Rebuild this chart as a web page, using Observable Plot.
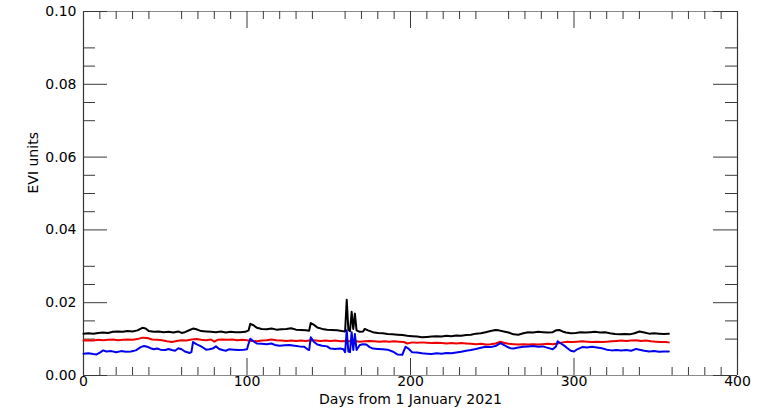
<!DOCTYPE html>
<html>
<head>
<meta charset="utf-8">
<script src="https://cdn.jsdelivr.net/npm/d3@7"></script>
<script src="https://cdn.jsdelivr.net/npm/@observablehq/plot@0.6"></script>
<style>
  html, body { margin: 0; padding: 0; background: white; }
  #chart { width: 768px; height: 411px; }
</style>
</head>
<body>
<div id="chart"></div>
<script>
// ---- Data ----
const blackDays = [0,3,6,9,12,15,18,21,24,27,30,33,36,38,40,43,46,49,52,55,58,60,62,65,67,69,72,75,78,81,84,87,90,93,96,99,101,102,104,106,109,112,115,118,121,124,127,130,133,136,138,139,141,143,146,149,152,155,158,160,161,162,163,164,165,166,167,169,171,172,174,177,180,183,186,189,192,195,198,201,204,207,210,213,216,219,222,225,228,231,234,237,240,243,246,249,252,254,257,260,263,266,269,272,275,278,281,284,287,289,291,293,295,298,301,304,307,310,313,316,319,322,325,328,331,334,337,340,343,346,349,352,355,358];
const blackVals = [.0115,.0116,.0115,.0117,.0118,.0117,.0120,.0121,.0120,.0122,.0121,.0124,.0131,.0129,.0122,.0120,.0121,.0119,.0120,.0118,.0121,.0117,.0119,.0125,.0129,.0127,.0122,.0121,.0120,.0119,.0121,.0118,.0120,.0119,.0119,.0120,.0124,.0142,.0138,.0131,.0128,.0127,.0129,.0126,.0127,.0128,.0130,.0126,.0125,.0124,.0123,.0144,.0139,.0132,.0128,.0126,.0125,.0124,.0122,.0121,.0208,.0125,.0122,.0175,.0128,.0170,.0124,.0120,.0121,.0128,.0124,.0119,.0117,.0116,.0114,.0113,.0112,.0111,.0109,.0108,.0107,.0105,.0106,.0107,.0108,.0107,.0109,.0108,.0110,.0109,.0111,.0112,.0115,.0116,.0119,.0122,.0125,.0124,.0121,.0118,.0113,.0112,.0116,.0119,.0118,.0120,.0119,.0118,.0119,.0124,.0125,.0121,.0118,.0116,.0117,.0119,.0118,.0119,.0120,.0118,.0119,.0116,.0114,.0113,.0114,.0113,.0116,.0121,.0118,.0115,.0116,.0115,.0114,.0115];

const redDays = [0,3,6,9,12,15,18,21,24,27,30,33,36,39,42,45,48,51,54,57,60,63,66,69,72,75,78,80,82,85,88,91,94,97,100,103,106,109,112,115,118,121,124,127,130,133,136,139,142,145,148,151,154,157,160,163,166,169,172,175,178,181,184,187,190,193,196,198,201,204,207,210,213,216,219,222,225,228,231,234,237,240,243,246,249,252,255,257,260,263,266,269,272,275,278,281,284,287,290,293,296,299,302,305,308,311,314,317,320,323,326,329,332,335,338,341,344,347,350,353,356,358];
const redVals = [.0096,.0097,.0096,.0098,.0097,.0098,.0099,.0097,.0098,.0099,.0098,.0100,.0104,.0103,.0099,.0098,.0097,.0094,.0092,.0095,.0097,.0096,.0099,.0100,.0098,.0097,.0099,.0093,.0098,.0099,.0098,.0099,.0097,.0098,.0097,.0095,.0094,.0096,.0097,.0099,.0097,.0096,.0095,.0096,.0095,.0096,.0095,.0097,.0096,.0095,.0096,.0095,.0096,.0094,.0095,.0094,.0095,.0093,.0094,.0095,.0094,.0093,.0094,.0093,.0094,.0093,.0092,.0088,.0091,.0090,.0091,.0090,.0089,.0090,.0089,.0088,.0089,.0088,.0089,.0088,.0087,.0086,.0087,.0085,.0086,.0088,.0093,.0090,.0087,.0086,.0085,.0086,.0085,.0086,.0085,.0086,.0087,.0086,.0088,.0091,.0093,.0092,.0093,.0094,.0093,.0092,.0093,.0092,.0093,.0094,.0095,.0096,.0095,.0096,.0097,.0095,.0096,.0094,.0093,.0092,.0092,.0091];

const blueDays = [0,3,6,8,10,12,14,17,20,23,26,29,32,35,37,39,41,43,45,47,50,52,54,56,58,60,62,65,66,67,69,71,73,75,77,79,81,83,85,87,89,92,95,98,100,101,102,104,106,109,112,115,117,120,123,126,129,132,135,137,138,139,141,143,146,149,151,154,157,159,160,161,162,163,164,165,166,167,169,171,173,175,177,180,183,186,189,192,195,197,199,201,204,207,210,213,216,219,222,225,228,231,234,237,240,243,246,249,252,255,257,259,261,263,266,269,272,275,278,281,284,287,289,290,292,294,296,298,300,302,305,308,311,314,317,320,323,326,329,332,335,338,340,343,346,349,352,355,358];
const blueVals = [.0060,.0061,.0059,.0058,.0063,.0069,.0066,.0067,.0064,.0067,.0065,.0066,.0069,.0078,.0081,.0079,.0075,.0072,.0074,.0071,.0070,.0073,.0070,.0068,.0075,.0072,.0066,.0062,.0064,.0092,.0086,.0082,.0077,.0071,.0072,.0074,.0080,.0073,.0070,.0068,.0072,.0071,.0070,.0071,.0072,.0088,.0101,.0094,.0088,.0087,.0086,.0088,.0084,.0082,.0083,.0084,.0082,.0080,.0079,.0072,.0070,.0105,.0092,.0085,.0082,.0080,.0074,.0073,.0074,.0072,.0064,.0124,.0066,.0064,.0119,.0070,.0114,.0070,.0084,.0086,.0085,.0078,.0074,.0073,.0072,.0071,.0066,.0058,.0057,.0079,.0073,.0064,.0063,.0061,.0060,.0059,.0061,.0060,.0062,.0061,.0063,.0065,.0068,.0070,.0073,.0076,.0079,.0078,.0081,.0089,.0084,.0079,.0075,.0074,.0077,.0079,.0080,.0081,.0079,.0080,.0076,.0072,.0080,.0094,.0088,.0082,.0075,.0068,.0066,.0072,.0078,.0077,.0079,.0077,.0075,.0071,.0069,.0070,.0069,.0070,.0068,.0073,.0071,.0068,.0066,.0067,.0065,.0066,.0066];

const xMajor = [0, 100, 200, 300, 400];
const xMinor = [10,20,30,40,60,70,80,90,110,120,130,140,160,170,180,190,210,220,230,240,260,270,280,290,310,320,330,340,360,370,380,390];
const yMajor = [0, 0.02, 0.04, 0.06, 0.08, 0.10];
const yMinor = [0.01,0.015,0.025,0.03,0.045,0.05,0.055,0.07,0.075,0.085,0.09];
const xLabel = "Days from 1 January 2021";
const yLabel = "EVI units";

// ---- Build tables ----
const toRows = (days, vals) => days.map((d, i) => ({day: d, v: vals[i]}));
const blackRows = toRows(blackDays, blackVals);
const redRows = toRows(redDays, redVals);
const blueRows = toRows(blueDays, blueVals);

const W = 768, H = 411, mL = 83, mR = 31, mT = 11, mB = 36;
const frameH = H - mT - mB;
const frameW = W - mL - mR;
const tickCol = "#3a3a3a";

const chart = Plot.plot({
  width: W,
  height: H,
  marginLeft: mL,
  marginRight: mR,
  marginTop: mT,
  marginBottom: mB,
  x: {domain: [0, 400]},
  y: {domain: [0, 0.1]},
  style: {fontFamily: "DejaVu Sans", fontSize: "14px", background: "white", color: "black"},
  marks: [
    // frame
    Plot.ruleY([0, 0.1], {stroke: "#8a8a8a", strokeWidth: 1.2}),
    Plot.ruleX([0, 400], {stroke: "#333", strokeWidth: 1.2}),
    // x ticks bottom & top
    Plot.tickX(xMinor, {x: d => d, insetTop: frameH - 8, stroke: tickCol}),
    Plot.tickX(xMinor, {x: d => d, insetBottom: frameH - 8, stroke: tickCol}),
    Plot.tickX(xMajor, {x: d => d, insetTop: frameH - 17, stroke: tickCol}),
    Plot.tickX(xMajor, {x: d => d, insetBottom: frameH - 17, stroke: tickCol}),
    // y ticks left & right
    Plot.tickY(yMinor, {y: d => d, insetRight: frameW - 12, stroke: tickCol}),
    Plot.tickY(yMinor, {y: d => d, insetLeft: frameW - 12, stroke: tickCol}),
    Plot.tickY(yMajor, {y: d => d, insetRight: frameW - 24, stroke: tickCol}),
    Plot.tickY(yMajor, {y: d => d, insetLeft: frameW - 24, stroke: tickCol}),
    // tick labels
    Plot.axisX(xMajor, {tickSize: 0, tickPadding: 1, label: null, fontSize: 14}),
    Plot.axisY(yMajor, {tickSize: 0, tickPadding: 7, label: null, fontSize: 14, tickFormat: d3.format(".2f")}),
    // axis titles
    Plot.text([xLabel], {frameAnchor: "bottom", dy: 28, text: d => d, fontSize: 14}),
    Plot.text([yLabel], {frameAnchor: "left", dx: -50, rotate: -90, text: d => d, fontSize: 14}),
    // series
    Plot.line(blackRows, {x: "day", y: "v", stroke: "black", strokeWidth: 2}),
    Plot.line(redRows, {x: "day", y: "v", stroke: "#ee0000", strokeWidth: 2}),
    Plot.line(blueRows, {x: "day", y: "v", stroke: "#0000ee", strokeWidth: 2})
  ]
});
document.getElementById("chart").appendChild(chart);
</script>
</body>
</html>
